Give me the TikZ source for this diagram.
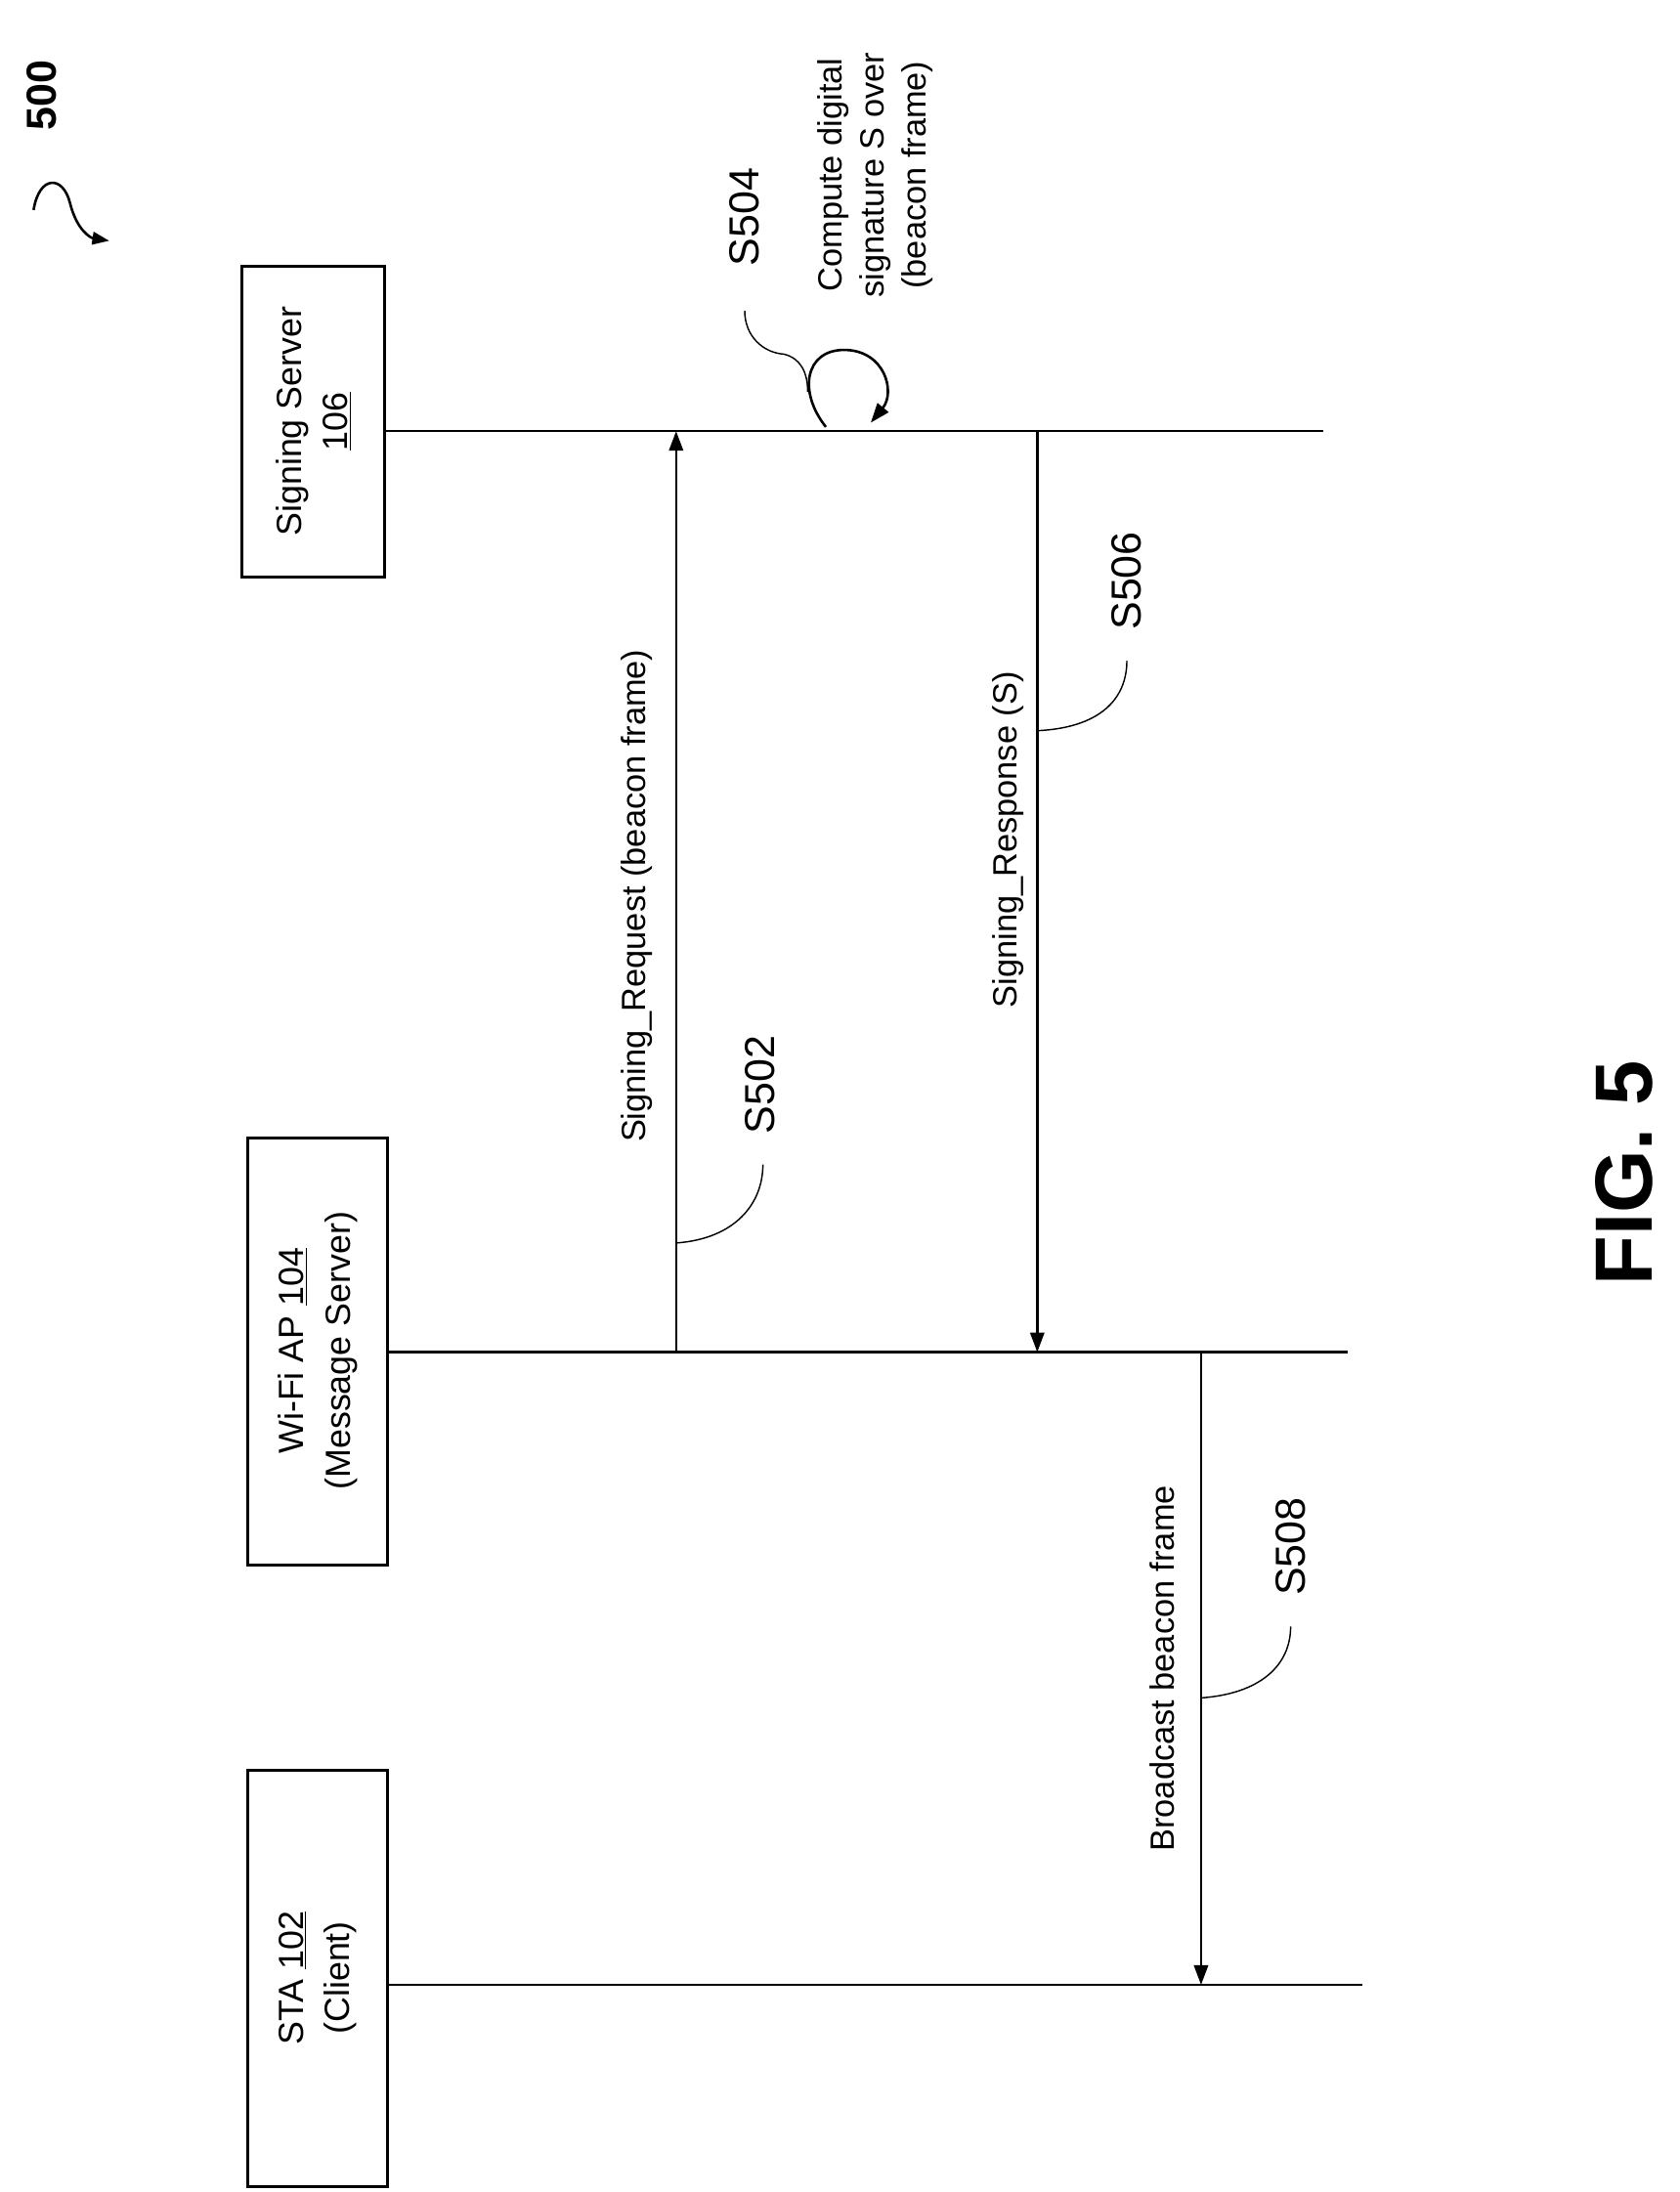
\documentclass[tikz,border=0pt]{standalone}
\usepackage{fontspec}
\setmainfont{Liberation Sans}
\usetikzlibrary{arrows.meta}
\begin{document}
\begin{tikzpicture}[x=1pt,y=-1pt,
  box/.style={draw,line width=2pt},
  life/.style={line width=1.8pt},
  msg/.style={line width=1.8pt,-{Triangle[length=14pt,width=10pt]}},
  lead/.style={line width=1pt},
  lbl/.style={rotate=90,font=\fontsize{24}{28}\selectfont},
  steplbl/.style={rotate=90,font=\fontsize{30}{34}\selectfont},
  btxt/.style={rotate=90,align=center,font=\fontsize{25}{33}\selectfont}]
\useasboundingbox (0,0) rectangle (1200,1566);
% boxes
\draw[box] (173,190) rectangle (275,412);
\node[btxt] (ss) at (224,301) {Signing Server\\\underline{106}};
\draw[box] (177,813) rectangle (277,1118);
\node[btxt] (ap) at (227,965) {Wi-Fi AP \underline{104}\\(Message Server)};
\draw[box] (177,1265) rectangle (277,1562);
\node[btxt] (sta) at (227,1413) {STA \underline{102}\\(Client)};
% lifelines
\coordinate (ssL) at (275,308); \coordinate (ssR) at (945,308);
\coordinate (apL) at (277,966); \coordinate (apR) at (963,966);
\coordinate (stL) at (277,1418); \coordinate (stR) at (973,1418);
\draw[life] (ssL) -- (ssR);
\draw[life] (apL) -- (apR);
\draw[life] (stL) -- (stR);
% messages
\coordinate (a1) at (483,966); \coordinate (b1) at (483,308);
\coordinate (a2) at (741,308); \coordinate (b2) at (741,966);
\coordinate (a3) at (858,966); \coordinate (b3) at (858,1418);
\draw[msg] (a1) -- (b1);
\draw[msg] (a2) -- (b2);
\draw[msg] (a3) -- (b3);
\node[lbl] (l1) at (455,640) {Signing\_Request (beacon frame)};
\node[lbl] (l2) at (720,600) {Signing\_Response (S)};
\node[lbl] (l3) at (830,1192) {Broadcast beacon frame};
% step labels
\node[steplbl] (s502) at (543,775) {S502};
\node[steplbl] (s506) at (805,415) {S506};
\node[steplbl] (s508) at (922,1105) {S508};
\node[steplbl] (s504) at (532,155) {S504};
\draw[lead] (483,888) .. controls (525,885) and (545,860) .. (545,832);
\draw[lead] (741,522) .. controls (785,520) and (805,500) .. (805,472);
\draw[lead] (858,1213) .. controls (900,1210) and (922,1190) .. (922,1162);
\draw[lead] (532,222) .. controls (532,240) and (545,252) .. (560,253) .. controls (572,256) and (577,266) .. (577,280);
% self loop
\coordinate (lp1) at (590,305); \coordinate (lp2) at (622,302);
\draw[line width=1.8pt,-{Triangle[length=14pt,width=10pt]}] (lp1) .. controls (570,280) and (575,250) .. (603,250) .. controls (632,250) and (640,280) .. (lp2);
\node[rotate=90,align=center,font=\fontsize{24}{30}\selectfont] (cmp) at (625,125) {Compute digital\\signature S over\\(beacon frame)};
% title
\node[rotate=90,font=\bfseries\fontsize{30}{34}\selectfont] (t500) at (30,68) {500};
\draw[line width=1.8pt,-{Triangle[length=12pt,width=9pt]}] (24,150) .. controls (28,125) and (45,125) .. (50,145) .. controls (55,165) and (65,170) .. (78,172);
\node[rotate=90,font=\bfseries\fontsize{58}{64}\selectfont] (fig) at (1160,838) {FIG. 5};
\end{tikzpicture}
\end{document}
